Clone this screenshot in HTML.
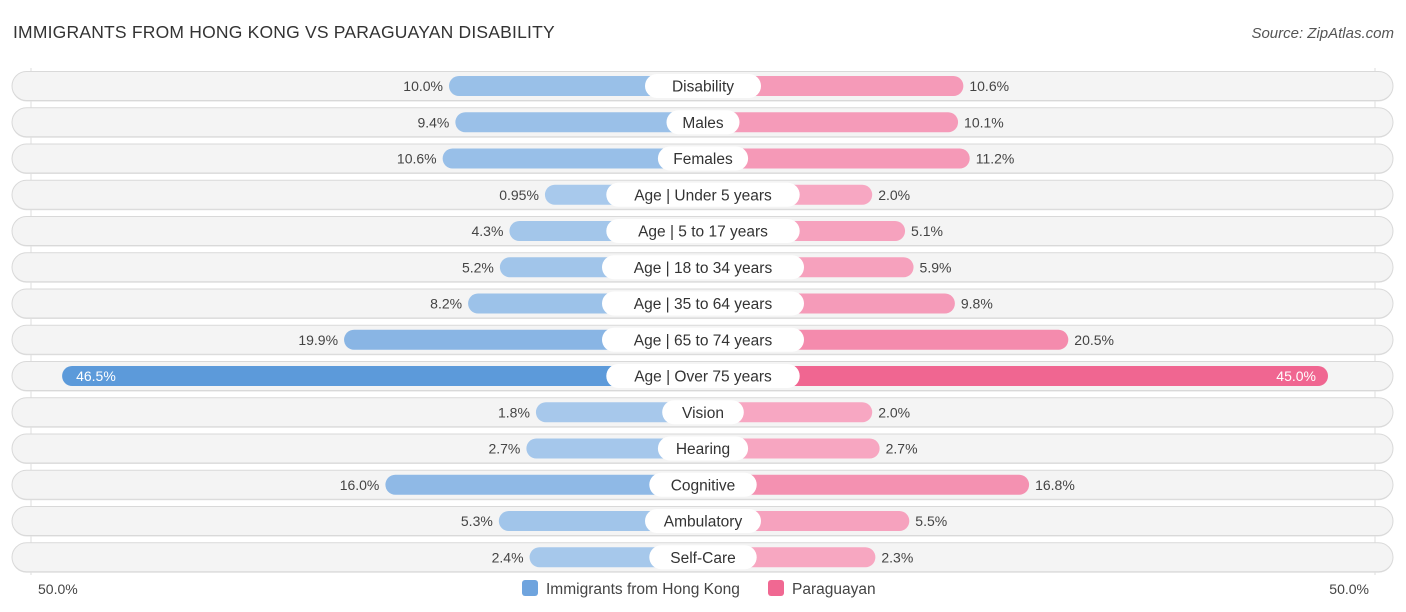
<!DOCTYPE html>
<html><head><meta charset="utf-8"><style>
body{margin:0;width:1406px;height:612px;background:#fff;font-family:"Liberation Sans",sans-serif;overflow:hidden;position:relative}
.t{position:absolute;left:13px;top:22px;font-size:17.5px;color:#333;letter-spacing:.2px}
.src{position:absolute;right:12px;top:25px;font-size:15px;color:#555;font-style:italic}
</style></head><body>
<div class="t">IMMIGRANTS FROM HONG KONG VS PARAGUAYAN DISABILITY</div>
<div class="src">Source: ZipAtlas.com</div>
<svg id="c" width="1406" height="612" style="position:absolute;left:0;top:0"></svg>
<script>
const categories=["Disability","Males","Females","Age | Under 5 years","Age | 5 to 17 years","Age | 18 to 34 years","Age | 35 to 64 years","Age | 65 to 74 years","Age | Over 75 years","Vision","Hearing","Cognitive","Ambulatory","Self-Care"];
const hongKong=[10.0,9.4,10.6,0.95,4.3,5.2,8.2,19.9,46.5,1.8,2.7,16.0,5.3,2.4];
const paraguayan=[10.6,10.1,11.2,2.0,5.1,5.9,9.8,20.5,45.0,2.0,2.7,16.8,5.5,2.3];
const hkLabels=["10.0%","9.4%","10.6%","0.95%","4.3%","5.2%","8.2%","19.9%","46.5%","1.8%","2.7%","16.0%","5.3%","2.4%"];
const pyLabels=["10.6%","10.1%","11.2%","2.0%","5.1%","5.9%","9.8%","20.5%","45.0%","2.0%","2.7%","16.8%","5.5%","2.3%"];
const axisLabels=["50.0%","50.0%"];
const svg=document.getElementById('c');const NS="http://www.w3.org/2000/svg";
const cx=703,y0=86,dy=36.25;
function len(v){return 148+10.6*v;}
function yPos(i){return y0+i*dy;}
function mk(t,a,txt){const e=document.createElementNS(NS,t);for(const k in a)e.setAttribute(k,a[k]);if(txt!=null)e.textContent=txt;svg.appendChild(e);return e;}
function mix(a,b,t){return 'rgb('+a.map((x,i)=>Math.round(x+(b[i]-x)*t)).join(',')+')';}
mk('line',{x1:31,y1:68,x2:31,y2:575,stroke:'#ddd','stroke-width':1});
mk('line',{x1:1375,y1:68,x2:1375,y2:575,stroke:'#ddd','stroke-width':1});
categories.forEach((c,i)=>{
 const y=yPos(i);
 let e=mk('rect',{x:12,y:y-13.5,width:1381,height:29,rx:14.5,fill:'#e2e2e2'});
 
 
 e=mk('rect',{x:12,y:y-14.5,width:1381,height:29,rx:14.5,fill:'#f4f4f4',stroke:'#d9d9d9','stroke-width':1});
 
 
 const t=Math.min(1,hongKong[i]/46.5),t2=Math.min(1,paraguayan[i]/45);
 const lb=len(hongKong[i]),rb=len(paraguayan[i]);
 e=mk('rect',{x:cx-lb,y:y-10,width:lb,height:20,rx:10,fill:mix([170,202,236],[92,154,218],t)});
 
 
 e=mk('rect',{x:cx,y:y-10,width:rb,height:20,rx:10,fill:mix([247,170,196],[240,102,145],t2)});
 
 
 const big=i===8;
 e=mk('text',{x:big?cx-lb+14:cx-lb-6,y:y+5,'font-size':14,fill:big?'#fff':'#444','text-anchor':big?'start':'end'},hkLabels[i]);
 
 
 e=mk('text',{x:big?cx+rb-12:cx+rb+6,y:y+5,'font-size':14,fill:big?'#fff':'#444','text-anchor':big?'end':'start'},pyLabels[i]);
 
 
 const w=c.length*8.6+30;
 e=mk('rect',{x:cx-w/2,y:y-12,width:w,height:24,rx:12,fill:'#fff'});
 
 
 e=mk('text',{x:cx,y:y+5.5,'font-size':15.5,fill:'#333','text-anchor':'middle'},c);
 
 
});
let e=mk('text',{x:38,y:594,'font-size':14,fill:'#444'},axisLabels[0]);

e=mk('text',{x:1369,y:594,'font-size':14,fill:'#444','text-anchor':'end'},axisLabels[1]);

e=mk('rect',{x:522,y:580,width:16,height:16,rx:3,fill:'#6fa4de'});

e=mk('text',{x:546,y:594,'font-size':15.5,fill:'#444'},'Immigrants from Hong Kong');

e=mk('rect',{x:768,y:580,width:16,height:16,rx:3,fill:'#f06892'});

e=mk('text',{x:792,y:594,'font-size':15.5,fill:'#444'},'Paraguayan');

</script>
</body></html>
